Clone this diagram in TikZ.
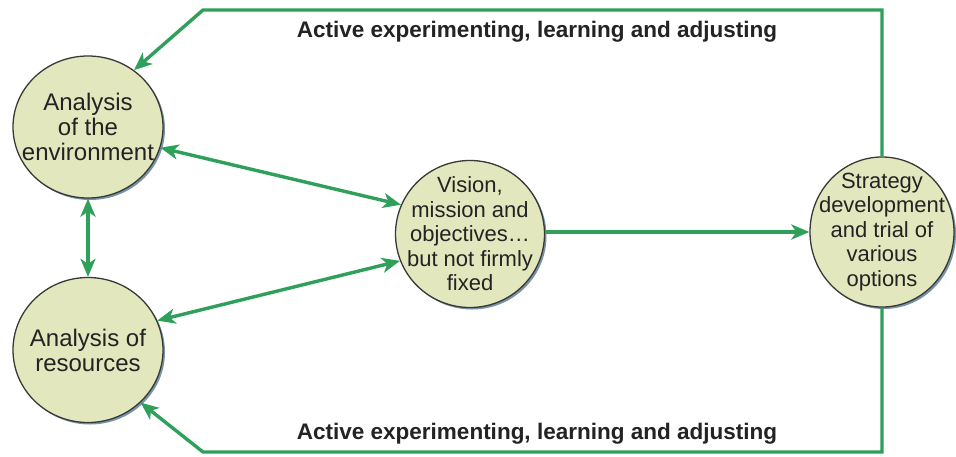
\documentclass[tikz,border=0pt]{standalone}
\usepackage{fontspec}
\setmainfont{Liberation Sans}
\usetikzlibrary{arrows.meta,shapes.geometric,shadows}
\definecolor{arrowgreen}{RGB}{46,160,90}
\definecolor{bubblefill}{RGB}{227,231,190}
\definecolor{bubbleline}{RGB}{55,58,55}
\definecolor{shadowblue}{RGB}{105,135,160}
\definecolor{textdark}{RGB}{35,35,35}
\begin{document}
\begin{tikzpicture}[x=1pt,y=-1pt,
  bubble/.style={ellipse, draw=bubbleline, line width=1.3pt, fill=bubblefill,
    inner sep=0pt, drop shadow={shadow xshift=2pt, shadow yshift=-2pt, fill=shadowblue, opacity=0.9}},
  bigtext/.style={align=center, text=textdark, inner sep=0pt, font=\fontsize{24}{25}\selectfont},
  midtext/.style={align=center, text=textdark, inner sep=0pt, font=\fontsize{22}{24.5}\selectfont},
  flow/.style={draw=arrowgreen, line width=3.4pt},
  onetip/.style={-{Stealth[length=18pt,width=15pt,inset=5pt]}},
  twotip/.style={{Stealth[length=18pt,width=15pt,inset=5pt]}-{Stealth[length=18pt,width=15pt,inset=5pt]}},
  looplabel/.style={font=\bfseries\fontsize{22.5}{24}\selectfont, text=textdark, anchor=base, inner sep=0pt}
]
\useasboundingbox (0,0) rectangle (956,456);
\fill[white] (0,0) rectangle (956,456);

\node[bubble, minimum width=150pt, minimum height=142pt,
  label={[bigtext]center:{Analysis\\of the\\environment}}] (env) at (88,127) {};
\node[bubble, minimum width=150pt, minimum height=145pt,
  label={[bigtext]center:{Analysis of\\resources}}] (res) at (88,350) {};
\node[bubble, minimum width=149pt, minimum height=147pt,
  label={[midtext]center:{Vision,\\mission and\\objectives\dots\\but not firmly\\fixed}}] (vis) at (470,234) {};
\node[bubble, minimum width=144pt, minimum height=150pt,
  label={[midtext]center:{Strategy\\development\\and trial of\\various\\options}}] (str) at (882,232) {};

\coordinate (tl) at (203,10);
\coordinate (bl) at (203,452);

\node[looplabel] (toptxt) at (537,37) {Active experimenting, learning and adjusting};
\node[looplabel] (bottxt) at (537,439) {Active experimenting, learning and adjusting};

\draw[flow, twotip] (env.-16) -- (vis.157);
\draw[flow, twotip] (res.23) -- (vis.201);
\draw[flow, twotip] (env.south) -- (res.north);
\draw[flow, onetip] (vis.east |- str.west) -- (str.west);
\draw[flow, onetip, line join=miter] (str.north) -- (str.north |- tl) -- (tl) -- (env.51);
\draw[flow, onetip, line join=miter] (str.south) -- (str.south |- bl) -- (bl) -- (res.-45);
\end{tikzpicture}
\end{document}
